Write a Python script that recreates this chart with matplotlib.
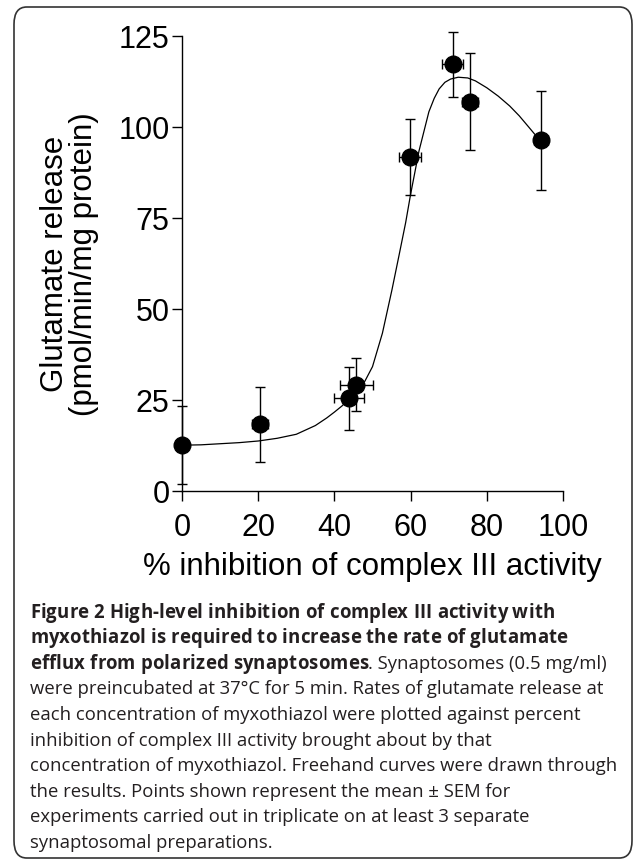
import matplotlib
matplotlib.use("Agg")
import matplotlib.pyplot as plt
from matplotlib.patches import FancyBboxPatch
from matplotlib.font_manager import FontProperties

# mean +- SEM
inhib = [0, 20.5, 43.8, 45.8, 59.8, 71.0, 75.6, 94.2]
inhib_err = [0, 2.2, 4.0, 4.2, 2.8, 2.8, 2.0, 1.8]
release = [12.65, 18.3, 25.5, 29.2, 91.9, 117.3, 107.1, 96.4]
release_err = [10.75, 10.4, 8.7, 7.3, 10.4, 9.0, 13.4, 13.6]

# freehand curve
curve_x = [0, 5, 10, 15, 20, 25, 30, 35, 38, 40, 42, 44, 46, 48, 50, 52.6, 55.1, 57,
           58.7, 60, 62.2, 64.8, 66.2, 67.5, 69, 70.5, 72.5, 75, 77, 80, 83, 86, 88.5,
           91, 93, 94.3]
curve_y = [12.6, 12.7, 13.0, 13.3, 13.75, 14.5, 15.6, 18.0, 20.1, 21.7, 23.4, 25.4,
           27.6, 30.2, 34.2, 43.4, 55.3, 65.0, 73.8, 81.6, 93.5, 104.3, 108.0, 110.6,
           112.4, 113.3, 113.8, 113.6, 112.8, 110.9, 108.6, 105.9, 103.2, 100.1, 97.6,
           96.2]

xticks = [0, 20, 40, 60, 80, 100]
yticks = [0, 25, 50, 75, 100, 125]

bold_lines = ["Figure 2 High-level inhibition of complex III activity with",
              "myxothiazol is required to increase the rate of glutamate",
              "efflux from polarized synaptosomes"]
line3_rest = ". Synaptosomes (0.5 mg/ml)"
plain_lines = ["were preincubated at 37\u00b0C for 5 min. Rates of glutamate release at",
               "each concentration of myxothiazol were plotted against percent",
               "inhibition of complex III activity brought about by that",
               "concentration of myxothiazol. Freehand curves were drawn through",
               "the results. Points shown represent the mean \u00b1 SEM for",
               "experiments carried out in triplicate on at least 3 separate",
               "synaptosomal preparations."]

W, H = 635, 863
fig = plt.figure(figsize=(W / 100, H / 100), dpi=100)
ax = fig.add_axes([182 / W, 1 - 491 / H, 381 / W, (491 - 36.5) / H])

ax.plot(curve_x, curve_y, color="black", lw=0.9, zorder=2)
ax.errorbar(inhib, release, xerr=inhib_err, yerr=release_err, fmt="o", color="black",
            ms=12, elinewidth=1.0, capsize=3.5, capthick=1.0, clip_on=False, zorder=3)

ax.set_xlim(0, 100)
ax.set_ylim(0, 125)
ax.set_xticks(xticks)
ax.set_yticks(yticks)
for s in ["top", "right"]:
    ax.spines[s].set_visible(False)
for s in ["left", "bottom"]:
    ax.spines[s].set_linewidth(1.0)
ax.tick_params(length=7, width=1.0, labelsize=22, pad=2)
ax.tick_params(axis="x", pad=9)
for lab in ax.get_xticklabels() + ax.get_yticklabels():
    lab.set_family("Liberation Sans")

ax.set_xlabel("% inhibition of complex III activity", fontsize=22.5,
              family="Liberation Sans", labelpad=6)
ax.set_ylabel("Glutamate release\n(pmol/min/mg protein)", fontsize=22.5,
              family="Liberation Sans", labelpad=14, linespacing=0.95)

# frame around the figure
fig.patches.append(FancyBboxPatch((14 / W, 1 - 858 / H), (632 - 14) / W, (858 - 7) / H,
                                  boxstyle="round,pad=0,rounding_size=0.02",
                                  transform=fig.transFigure, fill=False,
                                  edgecolor="#333333", lw=1.2))

# caption
renderer = fig.canvas.get_renderer()
cap_font = "Open Sans"
col = "#231f20"


def text_w(s, size, weight="normal"):
    fp = FontProperties(family=cap_font, size=size, weight=weight)
    w, h, d = renderer.get_text_width_height_descent(s + "x", fp, ismath=False)
    w0, h0, d0 = renderer.get_text_width_height_descent("x", fp, ismath=False)
    return w - w0


# body size chosen so the "concentration ..." line spans 30..617 px
size = 10 * (617 - 30) / text_w(plain_lines[3], 10)
x0 = 30
last_base = 848
step = 25.6
base = last_base - 9 * step

# letter spacing of the bold heading, set so that its second line ends at ~567 px
track = (567 - x0 - text_w(bold_lines[1], size, "bold")) / (len(bold_lines[1]) - 1)
track = max(track, 0)


def tracked(s, x, y, weight):
    for k, ch in enumerate(s):
        if ch == " ":
            continue
        # start of char k, keeping the kerning with the previous char
        px = x + text_w(s[:k + 1], size, weight) - text_w(ch, size, weight) + k * track
        fig.text(px / W, 1 - y / H, ch, fontsize=size, family=cap_font, weight=weight,
                 color=col, va="baseline")
    return x + text_w(s, size, weight) + (len(s) - 1) * track


for i, line in enumerate(bold_lines):
    end = tracked(line, x0, base + i * step, "bold")
fig.text(end / W, 1 - (base + 2 * step) / H, line3_rest, fontsize=size,
         family=cap_font, color=col, va="baseline")
for j, line in enumerate(plain_lines):
    fig.text(x0 / W, 1 - (base + (j + 3) * step) / H, line, fontsize=size,
             family=cap_font, color=col, va="baseline")

fig.savefig("out.png", dpi=100)
